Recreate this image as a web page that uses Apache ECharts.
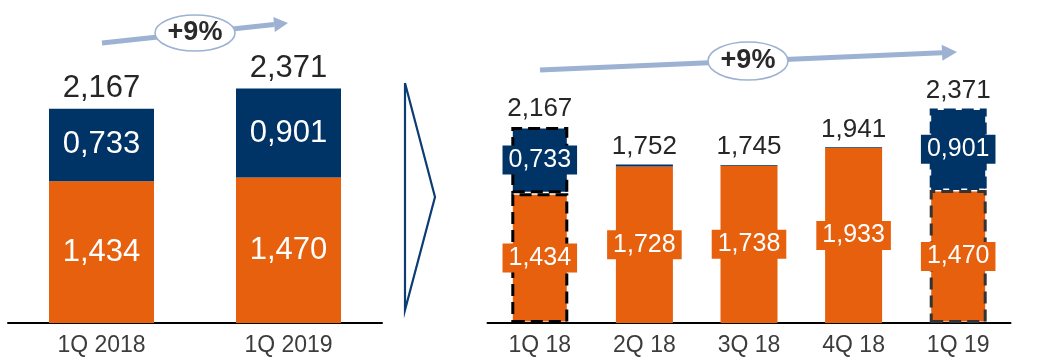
<!DOCTYPE html>
<html><head><meta charset="utf-8">
<script src="https://cdn.jsdelivr.net/npm/echarts@6/dist/echarts.min.js"></script>
<style>html,body{margin:0;padding:0;background:#fff}#c{width:1058px;height:357px}</style>
</head><body><div id="c"></div>
<script>
// ---- data ----
const yearCats = ['1Q 2018', '1Q 2019'];
const yearOrange = [1.434, 1.470];
const yearBlue = [0.733, 0.901];
const yearTotals = [2.167, 2.371];
const qCats = ['1Q 18', '2Q 18', '3Q 18', '4Q 18', '1Q 19'];
const qOrange = [1.434, 1.728, 1.738, 1.933, 1.470];
const qBlue = [0.733, 0.024, 0.007, 0.008, 0.901];
const qTotals = [2.167, 1.752, 1.745, 1.941, 2.371];
const growthText = '+9%';
const outlinedIdx = [0, 4];

// ---- styles ----
const ORANGE = '#E6600E', BLUE = '#003366', ARROW = '#9DB2D3', TXT = '#262626';
const FONT = '"Liberation Sans", Arial, sans-serif';
const fmt = v => v.toFixed(3).replace('.', ',');
const dashBorder = [
  { orange: { borderColor: '#000', borderWidth: 3, borderType: [12, 6] }, blue: { borderColor: '#000', borderWidth: 3, borderType: [12, 6] } },
  { orange: { borderColor: '#333', borderWidth: 3, borderType: [12, 6] }, blue: { borderColor: BLUE, borderWidth: 3, borderType: [12, 6] } }
];

const qOrangeData = qOrange.map((v, i) => {
  const k = outlinedIdx.indexOf(i);
  const d = { value: v };
  if (k >= 0) d.itemStyle = dashBorder[k].orange;
  return d;
});
const qBlueData = qBlue.map((v, i) => {
  const k = outlinedIdx.indexOf(i);
  const d = { value: v, label: { show: v > 0.1 } };
  if (k >= 0) d.itemStyle = dashBorder[k].blue;
  return d;
});

function arrow(x1, y1, x2, y2, len, hw) {
  const dx = x2 - x1, dy = y2 - y1, L = Math.hypot(dx, dy);
  const ux = dx / L, uy = dy / L, nx = -uy, ny = ux;
  const bx = x2 - ux * len, by = y2 - uy * len;
  return [
    { type: 'line', shape: { x1, y1, x2: bx, y2: by }, style: { stroke: ARROW, lineWidth: 5 }, z: 10 },
    { type: 'polygon', shape: { points: [[x2, y2], [bx + nx * hw, by + ny * hw], [bx - nx * hw, by - ny * hw]] }, style: { fill: ARROW }, z: 10 }
  ];
}
function bubble(cx, cy, rx, ry) {
  return [
    { type: 'ellipse', shape: { cx, cy, rx, ry }, style: { fill: '#fff', stroke: ARROW, lineWidth: 1.6 }, z: 11 },
    { type: 'text', style: { text: growthText, x: cx, y: cy, align: 'center', verticalAlign: 'middle', font: 'bold 27px ' + FONT, fill: '#2a2a2a' }, z: 12 }
  ];
}

const chart = echarts.init(document.getElementById('c'));
chart.setOption({
  animation: false,
  textStyle: { fontFamily: FONT },
  grid: [
    { left: 8, width: 374, top: 26.3, height: 296.7 },
    { left: 487.5, width: 523, top: 51.5, height: 271.5 }
  ],
  xAxis: [
    { type: 'category', gridIndex: 0, data: yearCats, axisTick: { show: false },
      axisLine: { lineStyle: { color: '#000', width: 2 } },
      axisLabel: { color: '#3c3c3c', fontSize: 23, margin: 11, fontFamily: FONT } },
    { type: 'category', gridIndex: 1, data: qCats, axisTick: { show: false },
      axisLine: { lineStyle: { color: '#000', width: 2 } },
      axisLabel: { color: '#3c3c3c', fontSize: 23, margin: 11, fontFamily: FONT } }
  ],
  yAxis: [
    { type: 'value', gridIndex: 0, min: 0, max: 3, show: false, splitLine: { show: false } },
    { type: 'value', gridIndex: 1, min: 0, max: 3, show: false, splitLine: { show: false } }
  ],
  series: [
    { type: 'bar', xAxisIndex: 0, yAxisIndex: 0, stack: 'a', barWidth: 105, data: yearOrange,
      itemStyle: { color: ORANGE },
      label: { show: true, position: 'inside', color: '#fff', fontSize: 31, fontFamily: FONT, formatter: p => fmt(p.value) } },
    { type: 'bar', xAxisIndex: 0, yAxisIndex: 0, stack: 'a', barWidth: 105, data: yearBlue,
      itemStyle: { color: BLUE },
      label: { show: true, position: 'inside', color: '#fff', fontSize: 31, fontFamily: FONT, formatter: p => fmt(p.value) } },
    { type: 'scatter', xAxisIndex: 0, yAxisIndex: 0, data: yearTotals, symbolSize: 0, silent: true,
      itemStyle: { color: TXT, opacity: 1 },
      label: { show: true, position: 'top', distance: 5, color: TXT, fontSize: 31, fontFamily: FONT, formatter: p => fmt(p.value) } },

    { type: 'bar', xAxisIndex: 1, yAxisIndex: 1, stack: 'b', barWidth: 57, data: qOrangeData,
      itemStyle: { color: ORANGE },
      label: { show: true, position: 'inside', color: '#fff', fontSize: 25, fontFamily: FONT,
        backgroundColor: ORANGE, padding: [2, 6], formatter: p => fmt(p.value) } },
    { type: 'bar', xAxisIndex: 1, yAxisIndex: 1, stack: 'b', barWidth: 57, data: qBlueData,
      itemStyle: { color: BLUE },
      label: { show: true, position: 'inside', color: '#fff', fontSize: 25, fontFamily: FONT,
        backgroundColor: BLUE, padding: [2, 6], formatter: p => fmt(p.value) } },
    { type: 'scatter', xAxisIndex: 1, yAxisIndex: 1, data: qTotals, symbolSize: 0, silent: true,
      itemStyle: { color: TXT, opacity: 1 },
      label: { show: true, position: 'top', distance: 5, color: TXT, fontSize: 26, fontFamily: FONT, formatter: p => fmt(p.value) } }
  ],
  graphic: [
    { type: 'polyline', shape: { points: [[405, 83], [435, 197], [405, 310], [405, 83]] },
      style: { stroke: '#0B3C73', lineWidth: 2.2, fill: null } },
    ...arrow(102, 43, 288, 23, 14, 7.5),
    ...bubble(195, 33, 40, 18),
    ...arrow(540, 70, 957, 52, 15, 8),
    ...bubble(748, 61, 40, 19)
  ]
});
</script></body></html>
